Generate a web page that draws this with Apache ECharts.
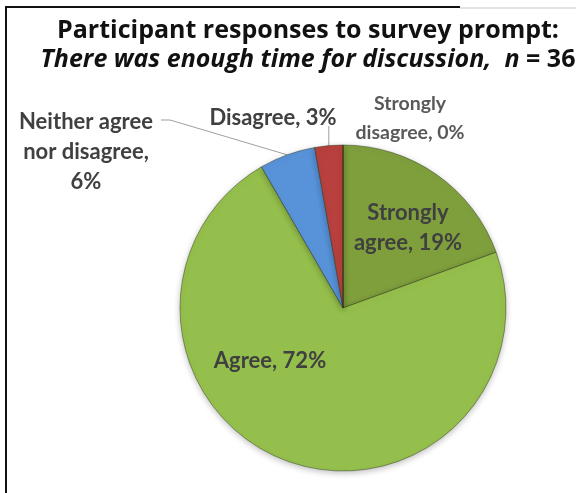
<!DOCTYPE html>
<html>
<head>
<meta charset="utf-8">
<script src="https://cdn.jsdelivr.net/npm/echarts@6/dist/echarts.min.js"></script>
<style>
  html, body { margin: 0; padding: 0; background: #fff; }
  #chart { width: 576px; height: 493px; }
</style>
</head>
<body>
<div id="chart"></div>
<script>
// survey answers (counts out of n = 36)
const categories = ['Strongly agree', 'Agree', 'Neither agree nor disagree', 'Disagree', 'Strongly disagree']
const counts = [7, 26, 2, 1, 0]
const sliceColors = ['#7f9f3d', '#95bf4c', '#5893d9', '#b8403e', '#c0504d']

const FONT = 'Lato'
const TITLE_FONT = 'Open Sans'

const chart = echarts.init(document.getElementById('chart'))

// label layout by slice (text position only)
const labelSpots = [
  { x: 408, y: 228 },
  { x: 270, y: 361 },
  { x: 86, y: 152 },
  { x: 273, y: 118 },
  { x: 410, y: 118 }
]

const labelFormats = [
  'Strongly\nagree, {d}%',
  'Agree, {d}%',
  'Neither agree\nnor disagree,\n{d}%',
  'Disagree, {d}%',
  'Strongly\ndisagree, {d}%'
]

const pieData = categories.map((name, i) => ({
  name: name,
  value: counts[i],
  itemStyle: { color: sliceColors[i] },
  label: { formatter: labelFormats[i] },
  labelLine: { show: i === 2 || i === 3 }
}))
// strongly disagree label is a bit smaller and lighter
pieData[4].label.fontSize = 19.5
pieData[4].label.lineHeight = 29
pieData[4].label.color = '#595959'

const option = {
  backgroundColor: '#fff',
  animation: false,
  title: {
    left: 303,
    top: 11,
    textAlign: 'center',
    text: '{b|Participant responses to survey prompt:}\n{i|There was enough time for discussion,  }{i|n}{b| = 36}',
    textStyle: {
      rich: {
        b: { fontFamily: TITLE_FONT, fontWeight: 'bold', fontSize: 25, color: '#111', lineHeight: 29 },
        i: { fontFamily: TITLE_FONT, fontWeight: 'bold', fontStyle: 'italic', fontSize: 25, color: '#111', lineHeight: 29 }
      }
    }
  },
  graphic: [
    { type: 'line', shape: { x1: 6, y1: 7, x2: 460, y2: 7 }, style: { stroke: '#111', lineWidth: 2 } },
    { type: 'line', shape: { x1: 460, y1: 8, x2: 576, y2: 8 }, style: { stroke: '#c8c8c8', lineWidth: 1 } },
    { type: 'line', shape: { x1: 6, y1: 6, x2: 6, y2: 493 }, style: { stroke: '#111', lineWidth: 2 } }
  ],
  series: [{
    type: 'pie',
    center: [343, 308],
    radius: 163,
    startAngle: 90,
    clockwise: true,
    percentPrecision: 0,
    avoidLabelOverlap: false,
    data: pieData,
    itemStyle: {
      borderColor: 'rgba(40,50,20,0.45)',
      borderWidth: 1,
      shadowBlur: 6,
      shadowColor: 'rgba(0,0,0,0.25)',
      shadowOffsetY: 2
    },
    label: {
      show: true,
      position: 'outside',
      fontFamily: FONT,
      fontWeight: 'bold',
      fontSize: 22,
      lineHeight: 30,
      color: '#404040',
      align: 'center'
    },
    labelLine: {
      lineStyle: { color: '#a0a0a0', width: 1 }
    },
    labelLayout: function (params) {
      const spot = labelSpots[params.dataIndex]
      const out = { x: spot.x, y: spot.y, align: 'center', verticalAlign: 'middle' }
      const pts = params.labelLinePoints
      if (pts && params.dataIndex === 2) {
        out.labelLinePoints = [pts[0], [170, 120], [161, 120]]
      } else if (pts && params.dataIndex === 3) {
        out.labelLinePoints = [pts[0], [pts[0][0], 126]]
      }
      return out
    }
  }]
}

chart.setOption(option)
</script>
</body>
</html>
